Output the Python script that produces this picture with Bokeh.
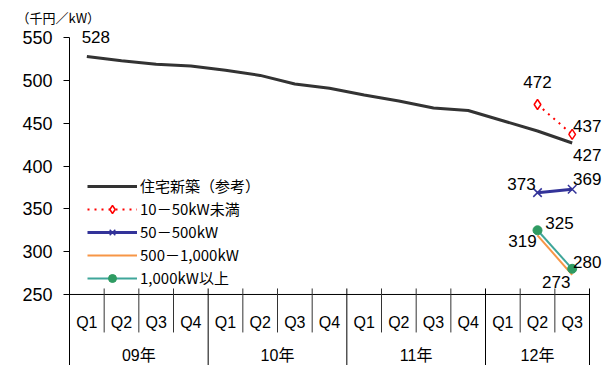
from bokeh.plotting import figure
from bokeh.models import Range1d, FixedTicker, Title
from bokeh.core.properties import value
from bokeh.embed import file_html
from bokeh.resources import INLINE

# ---------------- data ----------------
quarters = ["Q1", "Q2", "Q3", "Q4", "Q1", "Q2", "Q3", "Q4",
            "Q1", "Q2", "Q3", "Q4", "Q1", "Q2", "Q3"]
years = ["09年", "10年", "11年", "12年"]
year_counts = [4, 4, 4, 3]

house = [528, 523, 519, 517, 512, 506, 496, 491, 483, 476, 468, 465, 453, 441, 427]
small_idx = [13, 14]
small = [472, 437]          # 10－50kW未満
mid = [369, 373]            # 50－500kW
mid_labels = ["373", "369"]
large = [319, 273]          # 500－1,000kW
mega = [325, 280]           # 1,000kW以上

y_ticks = [250, 300, 350, 400, 450, 500, 550]

JP = "Liberation Sans, Noto Sans CJK JP"
NUM = "Liberation Sans"

p = figure(width=612, height=365,
           x_range=Range1d(0, 15.663), y_range=Range1d(167.0, 564.3),
           output_backend="svg", toolbar_location=None,
           x_axis_location=None,
           min_border_left=69, min_border_right=0,
           min_border_top=25, min_border_bottom=0)
p.title = None
p.add_layout(Title(text="（千円／kW）", align="left", offset=-53,
                   text_font_size="13px", text_font_style="normal",
                   text_font="Noto Sans CJK JP", text_color="#000000",
                   standoff=-3), "above")
p.outline_line_color = None
p.grid.visible = False
p.background_fill_color = "white"

ax = p.yaxis[0]
ax.ticker = FixedTicker(ticks=y_ticks)
ax.bounds = (167.0, 550)
ax.major_label_text_font_size = "18px"
ax.major_label_text_font = NUM
ax.major_label_text_color = "#000000"
ax.major_tick_out = 6
ax.major_tick_in = 0
ax.minor_tick_out = 0
ax.minor_tick_in = 0
ax.major_label_standoff = 11
ax.axis_line_color = "#000000"
ax.major_tick_line_color = "#000000"

xc = [i + 0.5 for i in range(len(quarters))]
xs = [xc[i] for i in small_idx]

# ---------------- series ----------------
p.line(xc, house, line_width=3, color="#333333", legend_label="住宅新築（参考）")

p.line(xs, small, line_width=2, color="#ff0000", line_dash="2 5",
       legend_label="10－50kW未満")
p.scatter(xs, small, marker="diamond", size=10, fill_color="white",
          line_color="#ff0000", line_width=1.5, legend_label="10－50kW未満")

p.line(xs, mid, line_width=3, color="#333399", legend_label="50－500kW")
p.scatter(xs, mid, marker="x", size=12, line_color="#333399",
          line_width=1.5, legend_label="50－500kW")

p.line(xs, large, line_width=2, color="#f79646", legend_label="500－1,000kW")

p.line(xs, mega, line_width=2, color="#3fa69a", legend_label="1,000kW以上")
p.scatter(xs, mega, marker="circle", size=9, fill_color="#2e9b62",
          line_color="#2e9b62", legend_label="1,000kW以上")

# ---------------- data labels ----------------
def lab(x, y, t, dx, dy):
    p.text([x], [y], text=[t], x_offset=dx, y_offset=dy,
           text_align="center", text_baseline="middle",
           text_font=value(NUM), text_font_size="17px", text_color="#000000")

lab(xc[0], house[0], str(house[0]), 9, -20)
lab(xc[-1], house[-1], str(house[-1]), 15, 12)
lab(xs[0], small[0], str(small[0]), 0, -22)
lab(xs[1], small[1], str(small[1]), 15, -8)
lab(xs[0], mid[0], mid_labels[0], -16, -9)
lab(xs[1], mid[1], mid_labels[1], 15, -10)
lab(xs[0], mega[0], str(mega[0]), 22, -7)
lab(xs[1], mega[1], str(mega[1]), 15, -7)
lab(xs[0], large[0], str(large[0]), -15, 6)
lab(xs[1], large[1], str(large[1]), -16, 7)

# ---------------- category table axis ----------------
n = len(quarters)
p.segment(x0=[0], y0=[250], x1=[n], y1=[250], line_color="#000000", line_width=1)

bounds = [0]
for c in year_counts:
    bounds.append(bounds[-1] + c)
q_sep = [i for i in range(1, n) if i not in bounds]
p.segment(x0=q_sep, y0=[257] * len(q_sep), x1=q_sep, y1=[205.6] * len(q_sep),
          line_color="#333333", line_width=1)
y_sep = bounds[1:]
p.segment(x0=y_sep, y0=[257] * len(y_sep), x1=y_sep, y1=[167] * len(y_sep),
          line_color="#000000", line_width=1)

p.text(xc, [217.3] * n, text=quarters, text_align="center", text_baseline="middle",
       text_font=value(NUM), text_font_size="16px", text_color="#000000")
ymid = [(bounds[i] + bounds[i + 1]) / 2 for i in range(len(years))]
p.text(ymid, [178.7] * len(years), text=years, text_align="center",
       text_baseline="middle", text_font=value(JP), text_font_size="16px",
       text_color="#000000")

# ---------------- legend ----------------
lg = p.legend[0]
lg.location = (18, 77)
lg.background_fill_alpha = 0
lg.border_line_color = None
lg.padding = 0
lg.margin = 0
lg.spacing = 2
lg.glyph_width = 50
lg.glyph_height = 20
lg.label_height = 20
lg.label_standoff = 3
lg.label_text_font_size = "15px"
lg.label_text_font = "Noto Sans CJK JP"
lg.label_text_color = "#000000"

open("out.html", "w").write(file_html(p, INLINE))
